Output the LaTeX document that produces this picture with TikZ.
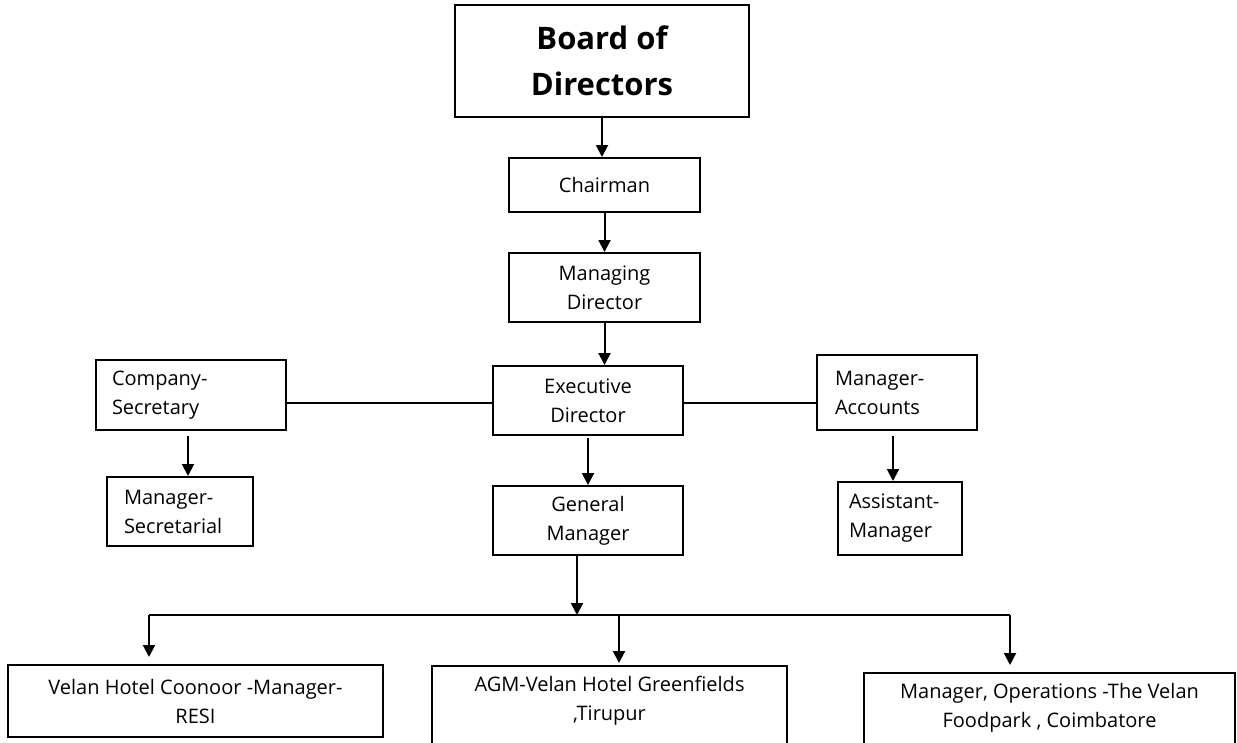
\documentclass[tikz,border=0pt]{standalone}
\usepackage{fontspec}
\setmainfont{Open Sans}
\usepackage{tikz}
\usetikzlibrary{arrows.meta, positioning, calc}
\usepackage{xcolor}
\definecolor{ChartBlack}{HTML}{000000}
\definecolor{ChartWhite}{HTML}{ffffff}
\tikzset{
    % Node styles
    orgbox/.style={
        rectangle,
        draw=ChartBlack,
        fill=ChartWhite,
        line width=2pt,
        align=center,
        inner sep=0pt,
        font=\fontsize{20}{29}\selectfont
    },
    leftbox/.style={
        orgbox,
        align=left,
        inner ysep=0pt
    },
    toptext/.style={
        align=center,
        inner sep=0pt,
        font=\fontsize{20}{29}\selectfont
    },
    % Arrow styles
    myarrow/.style={
        -{Triangle[width=12pt,length=12pt]},
        line width=2pt,
        ChartBlack
    },
    myline/.style={
        line width=2pt,
        ChartBlack
    }
}
\begin{document}
\begin{tikzpicture}[x=1pt, y=-1pt]
    \useasboundingbox[fill=white] (0,0) rectangle (1237,742);

    % Top of the chart
    \node[orgbox, minimum width=294pt, minimum height=112pt,
          font=\fontsize{31}{46}\selectfont\bfseries] (board) at (602,61) {Board of\\Directors};
    \node[orgbox, minimum width=191pt, minimum height=54pt] (chair) at (604.5,185) {Chairman};
    \node[orgbox, minimum width=191pt, minimum height=69pt] (md) at (604.5,287.5) {Managing\\Director};
    \node[orgbox, minimum width=190pt, minimum height=69pt] (ed) at (588,400.5) {Executive\\Director};
    \node[orgbox, minimum width=190pt, minimum height=69pt] (gm) at (588,520.5) {General\\Manager};

    % Side branches
    \node[leftbox, text width=158pt, inner xsep=16pt, minimum height=70pt] (cs) at (191,395) {Company-\\Secretary};
    \node[leftbox, text width=112pt, inner xsep=17pt, minimum height=69pt] (ms) at (180,511.5) {Manager-\\Secretarial};
    \node[leftbox, text width=124pt, inner xsep=18pt, minimum height=75pt] (ma) at (897,392.5) {Manager-\\Accounts};
    \node[leftbox, text width=102pt, inner xsep=11pt, minimum height=73pt] (am) at (900,518.5) {Assistant-\\Manager};

    % Units
    \node[orgbox, minimum width=375pt, minimum height=72pt] (coonoor) at (195.5,701) {Velan Hotel Coonoor -Manager-\\RESI};
    \node[orgbox, minimum width=355pt, minimum height=110pt, anchor=north] (tirupur) at (609.5,665) {};
    \node[toptext] (tirupurtext) at ([yshift=-36pt]tirupur.north) {AGM-Velan Hotel Greenfields\\,Tirupur};
    \node[orgbox, minimum width=371pt, minimum height=110pt, anchor=north] (foodpark) at (1049.5,672) {};
    \node[toptext] (foodparktext) at ([yshift=-36pt]foodpark.north) {Manager, Operations -The Velan\\Foodpark , Coimbatore};

    % Junction coordinates
    \coordinate (side) at (588,403);
    \coordinate (busin) at (577,615);
    \coordinate (busl) at (149,615);
    \coordinate (busm) at (619,615);
    \coordinate (busr) at (1010,615);

    % Main line
    \draw[myarrow] (board) -- (board.south |- chair.north);
    \draw[myarrow] (chair.south) -- (md.north);
    \draw[myarrow] (md.south) -- (md.south |- ed.north);
    \draw[myarrow] ([yshift=-2pt]ed.south) -- (gm.north);

    % Side lines
    \draw[myline] (cs.east |- side) -- (ed.west |- side);
    \draw[myline] (ma.west |- side) -- (ed.east |- side);
    \draw[myarrow] ([xshift=-3pt,yshift=-5pt]cs.south) -- ([xshift=-3pt]cs.south |- ms.north);
    \draw[myarrow] ([xshift=-4pt,yshift=-5pt]ma.south) -- ([xshift=-4pt]ma.south |- am.north);

    % Units
    \draw[myarrow] (gm.south -| busin) -- (busin);
    \draw[myline] (busl) -- (busr);
    \draw[myarrow] (busl) -- ([yshift=7pt]busl |- coonoor.north);
    \draw[myarrow] (busm) -- ([yshift=2pt]busm |- tirupur.north);
    \draw[myarrow] (busr) -- ([yshift=7pt]busr |- foodpark.north);
\end{tikzpicture}
\end{document}
